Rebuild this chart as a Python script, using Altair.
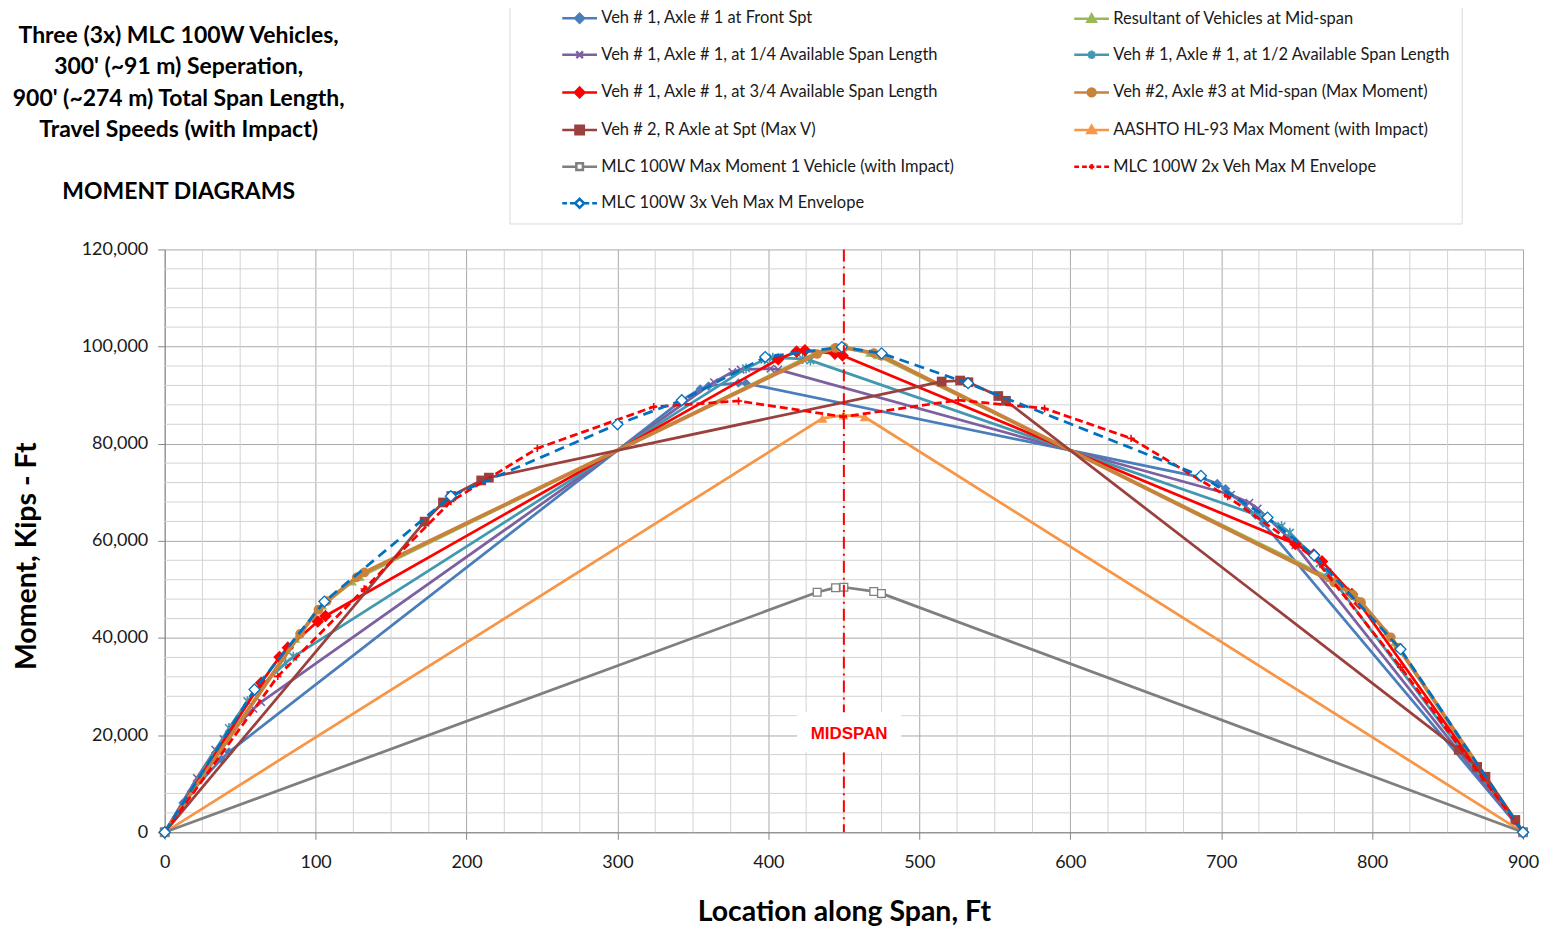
import altair as alt
import pandas as pd

# ---------------- data ----------------
NAMES = [
    "Veh # 1, Axle # 1 at Front Spt",
    "Resultant of Vehicles at Mid-span",
    "Veh # 1, Axle # 1, at 1/4 Available Span Length",
    "Veh # 1, Axle # 1, at 1/2 Available Span Length",
    "Veh # 1, Axle # 1, at 3/4 Available Span Length",
    "Veh #2, Axle #3 at Mid-span (Max Moment)",
    "Veh # 2, R Axle at Spt (Max V)",
    "AASHTO HL-93 Max Moment (with Impact)",
    "MLC 100W Max Moment 1 Vehicle (with Impact)",
    "MLC 100W 2x Veh Max M Envelope",
    "MLC 100W 3x Veh Max M Envelope",
]

front_x = [0, 12.2, 17.7, 37.5, 42.6, 342.6, 354.8, 360.3, 380.1, 385.2, 685.2, 697.4, 702.9, 722.7, 727.8, 900]
front_m = [0, 6080, 8380, 15060, 16530, 88910, 91270, 91880, 92510, 92430, 73160, 71790, 70730, 65310, 63670, 0]

result_x = [0, 86.95, 99.15, 104.65, 124.45, 129.55, 429.55, 441.75, 447.25, 467.05, 472.15, 772.15, 784.35, 789.85, 809.65, 814.75, 900]
result_m = [0, 39840, 44840, 46650, 51580, 52600, 98420, 99700, 99830, 98700, 98170, 52340, 49880, 48330, 41160, 39070, 0]

quarter_x = [0, 21.3, 33.5, 39.0, 58.8, 63.9, 363.9, 376.1, 381.6, 401.4, 406.5, 706.5, 718.7, 724.2, 744.0, 749.1, 900]
quarter_m = [0, 11180, 17000, 19180, 25430, 26790, 92670, 94750, 95250, 95450, 95260, 69490, 67850, 66660, 60820, 59060, 0]

half_x = [0, 42.6, 54.8, 60.3, 80.1, 85.2, 385.2, 397.4, 402.9, 422.7, 427.8, 727.8, 740.0, 745.5, 765.3, 770.4, 900]
half_m = [0, 21450, 26990, 29050, 34870, 36130, 95500, 97320, 97700, 97470, 97160, 64880, 62980, 61680, 55400, 53540, 0]

threeq_x = [0, 63.9, 76.1, 81.6, 101.4, 106.5, 406.5, 418.7, 424.2, 444.0, 449.1, 749.1, 761.3, 766.8, 786.6, 791.7, 900]
threeq_m = [0, 30780, 36070, 38010, 43400, 44540, 97400, 98960, 99220, 98560, 98150, 59360, 57190, 55770, 49060, 47090, 0]

axle3_x = [0, 89.7, 101.9, 107.4, 127.2, 132.3, 432.3, 444.5, 450.0, 469.8, 474.9, 774.9, 787.1, 792.6, 812.4, 817.5, 900]
axle3_m = [0, 40850, 45820, 47610, 52480, 53490, 98470, 99710, 99830, 98650, 98100, 51430, 48940, 47370, 40140, 38040, 0]

raxle_x = [0, 172.2, 184.4, 189.9, 209.7, 214.8, 514.8, 527.0, 532.5, 552.3, 557.4, 857.4, 869.6, 875.1, 894.9, 900]
raxle_m = [0, 63960, 67900, 69230, 72440, 73020, 92800, 93010, 92660, 89820, 88840, 16970, 13450, 11430, 2540, 0]

aashto_x = [0, 435.8, 449.8, 463.8, 900]
aashto_m = [0, 85200, 85900, 85500, 0]

one_x = [0, 432.3, 444.5, 450.0, 469.8, 474.9, 900]
one_m = [0, 49410, 50360, 50450, 49590, 49180, 0]

env2_x = [0, 74.9, 132.2, 189.6, 246.9, 324.0, 380.2, 449.7, 525.7, 583.0, 640.3, 704.3, 761.6, 818.9, 900]
env2_m = [0, 32100, 50100, 68100, 79050, 87600, 88800, 85550, 88970, 87260, 81100, 69100, 56500, 34000, 0]

env3_x = [0, 59.5, 105.8, 189.6, 300.0, 342.6, 397.9, 448.6, 475.0, 532.3, 686.6, 730.7, 761.6, 818.8, 900]
env3_m = [0, 29400, 47500, 69200, 84000, 88950, 97850, 99900, 98600, 92450, 73400, 64800, 57000, 37700, 0]

SERIES_X = [front_x, result_x, quarter_x, half_x, threeq_x, axle3_x, raxle_x, aashto_x, one_x, env2_x, env3_x]
SERIES_M = [front_m, result_m, quarter_m, half_m, threeq_m, axle3_m, raxle_m, aashto_m, one_m, env2_m, env3_m]

X_MAJOR = [0, 100, 200, 300, 400, 500, 600, 700, 800, 900]
X_MINOR = [25, 50, 75, 125, 150, 175, 225, 250, 275, 325, 350, 375, 425, 450, 475,
           525, 550, 575, 625, 650, 675, 725, 750, 775, 825, 850, 875]
Y_MAJOR = [0, 20000, 40000, 60000, 80000, 100000, 120000]
Y_MINOR = [4000, 8000, 12000, 16000, 24000, 28000, 32000, 36000, 44000, 48000, 52000, 56000,
           64000, 68000, 72000, 76000, 84000, 88000, 92000, 96000, 104000, 108000, 112000, 116000]

MIDSPAN_X = [450]
MIDSPAN_LABEL = ["MIDSPAN"]

TITLE_LINES = [
    "Three (3x) MLC 100W Vehicles,",
    "300' (~91 m) Seperation,",
    "900' (~274 m) Total Span Length,",
    "Travel Speeds (with Impact)",
]
SUBTITLE = "MOMENT  DIAGRAMS"

# ---------------- styles ----------------
X_PATH = "M-1,-1L1,1M-1,1L1,-1"
AST_PATH = "M-1,-1L1,1M-1,1L1,-1M0,-1.3V1.3"
PLUS_PATH = "M-1,0H1M0,-1V1"

STYLES = [
    dict(color="#4A7EBB", width=2.75, dash=None, shape="diamond", size=90, kind="filled"),
    dict(color="#98B954", width=2.75, dash=None, shape="triangle-up", size=80, kind="filled"),
    dict(color="#7D60A0", width=2.75, dash=None, shape=X_PATH, size=55, kind="stroke"),
    dict(color="#4198AF", width=2.75, dash=None, shape=AST_PATH, size=60, kind="stroke"),
    dict(color="#FF0000", width=2.75, dash=None, shape="diamond", size=160, kind="filled"),
    dict(color="#C8823C", width=3.75, dash=None, shape="circle", size=95, kind="filled"),
    dict(color="#9A403D", width=2.75, dash=None, shape="square", size=95, kind="filled"),
    dict(color="#F79646", width=2.75, dash=None, shape="triangle-up", size=100, kind="filled"),
    dict(color="#7F7F7F", width=2.75, dash=None, shape="square", size=60, kind="hollow"),
    dict(color="#FF0000", width=2.75, dash=[8, 4], shape=PLUS_PATH, size=55, kind="stroke"),
    dict(color="#0070C0", width=2.75, dash=[10, 6], shape="diamond", size=120, kind="hollow"),
]

LEGEND_PATHS = [
    "M-2.9,0H2.9M0,-0.75L0.75,0L0,0.75L-0.75,0ZM0,-0.38L0.38,0L0,0.38L-0.38,0Z",
    "M-2.9,0H2.9M0,-0.7L0.7,0.5L-0.7,0.5ZM0,-0.3L0.3,0.25L-0.3,0.25Z",
    "M-2.9,0H2.9M-0.55,-0.55L0.55,0.55M-0.55,0.55L0.55,-0.55",
    "M-2.9,0H2.9M-0.5,-0.5L0.5,0.5M-0.5,0.5L0.5,-0.5M0,-0.7V0.7",
    "M-2.9,0H2.9M0,-0.8L0.8,0L0,0.8L-0.8,0ZM0,-0.4L0.4,0L0,0.4L-0.4,0Z",
    "M-2.9,0H2.9M-0.65,0A0.65,0.65,0,1,0,0.65,0A0.65,0.65,0,1,0,-0.65,0M-0.3,0A0.3,0.3,0,1,0,0.3,0A0.3,0.3,0,1,0,-0.3,0",
    "M-2.9,0H2.9M-0.7,-0.7H0.7V0.7H-0.7ZM-0.3,-0.3H0.3V0.3H-0.3Z",
    "M-2.9,0H2.9M0,-0.7L0.7,0.5L-0.7,0.5ZM0,-0.3L0.3,0.25L-0.3,0.25Z",
    "M-2.9,0H-0.55M0.55,0H2.9M-0.55,-0.55H0.55V0.55H-0.55Z",
    "M-2.9,0H-2.1M-1.6,0H-0.8M-0.45,0H0.45M0,-0.45V0.45M0.8,0H1.6M2.1,0H2.9",
    "M-2.9,0H-2.1M-1.6,0H-0.8M0.8,0H1.6M2.1,0H2.9M0,-0.75L0.75,0L0,0.75L-0.75,0Z",
]

FONT = "Lato"
X_TITLE = "Location along Span, Ft"
Y_TITLE = "Moment, Kips - Ft"

# ---------------- build table ----------------
rows = []
for name, xs, ms in zip(NAMES, SERIES_X, SERIES_M):
    for xv, mv in zip(xs, ms):
        rows.append({"series": name, "x": xv, "m": mv})
df = pd.DataFrame(rows)

x_scale = alt.Scale(domain=[0, 900], nice=False, zero=False)
y_scale = alt.Scale(domain=[0, 120000], nice=False, zero=False)

x_axis = alt.Axis(
    values=X_MAJOR, grid=True, gridColor="#a9a9a9", gridWidth=1,
    domainColor="#868686", domainWidth=1, tickColor="#868686", tickSize=7,
    format="d", labelFont=FONT, labelFontSize=18, labelColor="#1a1a1a", labelPadding=14,
    labelFlush=False, labelOverlap=False,
    titleFont=FONT, titleFontSize=28.5, titleFontWeight="bold", titleColor="#000000", titlePadding=26,
)
y_axis = alt.Axis(
    values=Y_MAJOR, grid=True, gridColor="#a9a9a9", gridWidth=1,
    domainColor="#868686", domainWidth=1, tickColor="#868686", tickSize=7,
    format=",d", labelFont=FONT, labelFontSize=18, labelColor="#1a1a1a", labelPadding=10,
    labelFlush=False, labelOverlap=False,
    titleFont=FONT, titleFontSize=28.5, titleFontWeight="bold", titleColor="#000000", titlePadding=40,
    titleY=307,
)


def X(field):
    return alt.X(field, type="quantitative", scale=x_scale, axis=x_axis, title=X_TITLE)


def Y(field):
    return alt.Y(field, type="quantitative", scale=y_scale, axis=y_axis, title=Y_TITLE)


layers = []

# minor grid lines (drawn through the shared scales)
minor_x_df = pd.DataFrame({"x": X_MINOR})
minor_y_df = pd.DataFrame({"m": Y_MINOR})
layers.append(alt.Chart(minor_x_df).mark_rule(color="#d3d3d3", strokeWidth=1).encode(x=X("x")))
layers.append(alt.Chart(minor_y_df).mark_rule(color="#d3d3d3", strokeWidth=1).encode(y=Y("m")))

for name, st in zip(NAMES, STYLES):
    src = alt.Chart(df).transform_filter(alt.datum.series == name)
    line_kw = dict(color=st["color"], strokeWidth=st["width"], strokeJoin="round")
    if st["dash"]:
        line_kw["strokeDash"] = st["dash"]
    line = src.mark_line(**line_kw).encode(x=X("x"), y=Y("m"))
    if st["kind"] == "filled":
        pt_mark = dict(shape=st["shape"], size=st["size"], filled=True, color=st["color"], opacity=1)
    elif st["kind"] == "stroke":
        pt_mark = dict(shape=st["shape"], size=st["size"], filled=False, color=st["color"],
                       strokeWidth=1.6, opacity=1)
    else:
        pt_mark = dict(shape=st["shape"], size=st["size"], filled=False, stroke=st["color"],
                       fill="white", fillOpacity=1, strokeWidth=1.3, opacity=1)
    pts = src.mark_point(**pt_mark).encode(x=X("x"), y=Y("m"))
    layers += [line, pts]

mid_df = pd.DataFrame({"x": MIDSPAN_X})
layers.append(alt.Chart(mid_df).mark_rule(
    color="#FF0000", strokeWidth=2, strokeDash=[12, 5, 2, 5]
).encode(x=X("x")))

box_df = pd.DataFrame({"x1": [419], "x2": [488], "m1": [16600], "m2": [24700]})
layers.append(alt.Chart(box_df).mark_rect(color="white", opacity=1).encode(
    x=X("x1"), x2="x2", y=Y("m1"), y2="m2"
))

lab_df = pd.DataFrame({"x": [453.5], "m": [20300], "label": MIDSPAN_LABEL})
layers.append(alt.Chart(lab_df).mark_text(
    font="Liberation Sans", fontSize=17, fontWeight="bold", color="#FF0000", baseline="middle", align="center"
).encode(x=X("x"), y=Y("m"), text="label:N"))

leg = alt.Legend(
    title=" ", titleOrient="left", titlePadding=40, titleFontSize=16,
    orient="none", legendX=345.5, legendY=-250, columns=2, direction="horizontal",
    symbolSize=144, symbolStrokeWidth=2.5, symbolOffset=12, symbolOpacity=1,
    labelOffset=13.4, labelFont=FONT, labelFontSize=16.5, labelColor="#1a1a1a", labelLimit=600,
    rowPadding=17.7, columnPadding=113, padding=10, gridAlign="each",
    strokeColor="#d9d9d9", fillColor="white",
)
layers.append(alt.Chart(df).transform_filter("false").mark_point(filled=False, opacity=1).encode(
    x=X("x"), y=Y("m"),
    color=alt.Color("series:N", scale=alt.Scale(domain=NAMES, range=[s["color"] for s in STYLES]), legend=leg),
    shape=alt.Shape("series:N", scale=alt.Scale(domain=NAMES, range=LEGEND_PATHS), legend=leg),
))

title = alt.TitleParams(
    text=TITLE_LINES, subtitle=SUBTITLE,
    anchor="start", frame="group", orient="top", align="center",
    dx=14, dy=205, offset=0,
    font=FONT, fontSize=23, fontWeight="bold", color="#000000", lineHeight=31.5,
    subtitleFont=FONT, subtitleFontSize=23, subtitleFontWeight="bold", subtitleColor="#000000",
    subtitlePadding=39,
)

chart = alt.layer(*layers).properties(
    width=1361, height=584, title=title,
    autosize=alt.AutoSizeParams(type="none"),
    padding={"left": 157, "top": 241, "right": 22, "bottom": 93},
).configure(background="white", font=FONT).configure_view(stroke=None)

chart.save("out.html", embed_options={"renderer": "svg", "actions": False})
